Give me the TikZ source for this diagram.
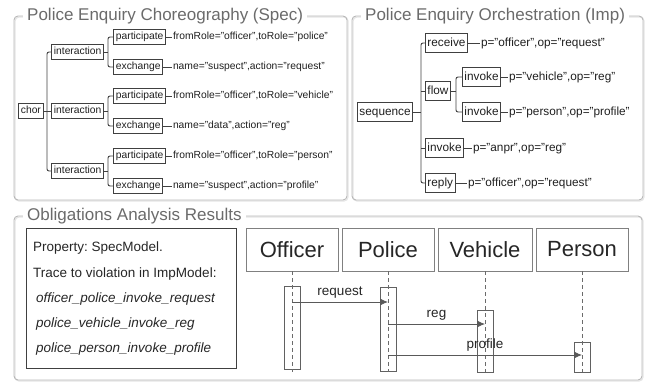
\documentclass[tikz,border=0pt]{standalone}
\usepackage{fontspec}
\setmainfont{Liberation Sans}
\usetikzlibrary{arrows.meta}
\frenchspacing

\begin{document}
\begin{tikzpicture}[x=1pt,y=-1pt,
  panelshadow/.style={draw=black!10, line width=1.2pt, rounded corners=4pt},
  panel/.style={draw=black!28, line width=0.9pt, rounded corners=4pt},
  paneltitle/.style={fill=white, text=black!58, anchor=west, inner xsep=4pt, inner ysep=1pt,
    font=\fontsize{17}{17}\selectfont, text height=12.3pt, text depth=3.6pt},
  tnode/.style={draw=black!75, line width=0.95pt, text=black!88, anchor=west,
    inner xsep=2.4pt, inner ysep=0pt, minimum height=15pt,
    font=\fontsize{10.3}{10.3}\selectfont, text height=7.6pt, text depth=2.2pt},
  tattr/.style={text=black!88, anchor=west, inner xsep=0.8pt, inner ysep=0pt,
    font=\fontsize{10.3}{10.3}\selectfont, text height=7.6pt, text depth=2.2pt},
  rnode/.style={tnode, minimum height=19.5pt, inner xsep=2pt,
    font=\fontsize{11.8}{11.8}\selectfont, text height=8.7pt, text depth=2.5pt},
  rattr/.style={tattr, font=\fontsize{11.8}{11.8}\selectfont, text height=8.7pt, text depth=2.5pt},
  link/.style={draw=black!75, line width=0.95pt, rounded corners=2pt},
  hdr/.style={draw=black!50, line width=0.8pt, minimum width=92pt, minimum height=43pt,
    inner sep=0pt, text=black!85, font=\fontsize{22}{22}\selectfont},
  act/.style={draw=black!62, line width=0.8pt, minimum width=16pt, inner sep=0pt},
  life/.style={draw=black!58, line width=0.8pt, dash pattern=on 4pt off 3pt},
  msg/.style={draw=black!65, line width=0.8pt, -{Latex[length=8pt,width=7pt]}},
  msglabel/.style={midway, yshift=10.5pt, inner sep=0pt, text=black!85,
    font=\fontsize{13.5}{13.5}\selectfont, text height=9.8pt, text depth=2.8pt},
  proptext/.style={anchor=west, inner sep=0pt, text=black!85,
    font=\fontsize{13.5}{13.5}\selectfont, text height=9.8pt, text depth=2.8pt}
]
\useasboundingbox (0,0) rectangle (648,383);

% ---------- panels ----------
\draw[panelshadow] (15,17) rectangle (348,201);
\draw[panelshadow] (353,17) rectangle (644,201);
\draw[panelshadow] (15,217) rectangle (643,381);
\draw[panel] (14,16) rectangle (347,200);
\draw[panel] (352,16) rectangle (643,200);
\draw[panel] (14,216) rectangle (642,380);
\node[paneltitle] (specTitle) at (23,16) {Police Enquiry Choreography (Spec)};
\node[paneltitle] (impTitle) at (361,16) {Police Enquiry Orchestration (Imp)};
\node[paneltitle] (resTitle) at (23,216) {Obligations Analysis Results};

% ---------- choreography tree ----------
\node[tnode] (chor) at (18,111) {chor};
\node[tnode] (ia1) at (51,52) {interaction};
\node[tnode] (ia2) at (51,111) {interaction};
\node[tnode] (ia3) at (51,171) {interaction};
\node[tnode] (pa1) at (113,37) {participate};
\node[tnode] (ex1) at (113,67) {exchange};
\node[tnode] (pa2) at (113,96) {participate};
\node[tnode] (ex2) at (113,126) {exchange};
\node[tnode] (pa3) at (113,156) {participate};
\node[tnode] (ex3) at (113,186) {exchange};

\node[tattr] (pa1a) at (172,37) {fromRole="officer",toRole="police"};
\node[tattr] (ex1a) at (172,67) {name="suspect",action="request"};
\node[tattr] (pa2a) at (172,96) {fromRole="officer",toRole="vehicle"};
\node[tattr] (ex2a) at (172,126) {name="data",action="reg"};
\node[tattr] (pa3a) at (172,156) {fromRole="officer",toRole="person"};
\node[tattr] (ex3a) at (172,186) {name="suspect",action="profile"};

\coordinate (c0) at (47,111);
\coordinate (c1) at (108,52);
\coordinate (c2) at (108,111);
\coordinate (c3) at (108,171);

\draw[link] (chor.east) -- (c0);
\draw[link] (ia1.west) -| (c0) |- (ia3.west);
\draw[link] (ia2.west) -- (ia2.west -| c0);
\draw[link] (ia1.east) -- (c1);
\draw[link] (pa1.west) -| (c1) |- (ex1.west);
\draw[link] (ia2.east) -- (c2);
\draw[link] (pa2.west) -| (c2) |- (ex2.west);
\draw[link] (ia3.east) -- (c3);
\draw[link] (pa3.west) -| (c3) |- (ex3.west);

\draw[link] (pa1.east) -- (pa1a.west);
\draw[link] (ex1.east) -- (ex1a.west);
\draw[link] (pa2.east) -- (pa2a.west);
\draw[link] (ex2.east) -- (ex2a.west);
\draw[link] (pa3.east) -- (pa3a.west);
\draw[link] (ex3.east) -- (ex3a.west);

% ---------- orchestration tree ----------
\node[rnode] (seq) at (357,112) {sequence};
\node[rnode] (rec) at (425,43) {receive};
\node[rnode] (flow) at (425,91) {flow};
\node[rnode] (invA) at (425,148) {invoke};
\node[rnode] (rep) at (425,183) {reply};
\node[rnode] (invV) at (462,77) {invoke};
\node[rnode] (invP) at (462,112) {invoke};

\node[rattr] (recA) at (480,43) {p="officer",op="request"};
\node[rattr] (invVA) at (508,77) {p="vehicle",op="reg"};
\node[rattr] (invPA) at (508,112) {p="person",op="profile"};
\node[rattr] (invAA) at (472,148) {p="anpr",op="reg"};
\node[rattr] (repA) at (467,183) {p="officer",op="request"};

\coordinate (s0) at (421,112);
\coordinate (f0) at (456,91);

\draw[link] (seq.east) -- (s0);
\draw[link] (rec.west) -| (s0) |- (rep.west);
\draw[link] (flow.west) -- (flow.west -| s0);
\draw[link] (invA.west) -- (invA.west -| s0);
\draw[link] (flow.east) -- (f0);
\draw[link] (invV.west) -| (f0) |- (invP.west);

\draw[link] (rec.east) -- (recA.west);
\draw[link] (invV.east) -- (invVA.west);
\draw[link] (invP.east) -- (invPA.west);
\draw[link] (invA.east) -- (invAA.west);
\draw[link] (rep.east) -- (repA.west);

% ---------- analysis results ----------
\node[draw=black!75, line width=1.3pt, minimum width=210pt, minimum height=140pt,
  inner sep=0pt, anchor=north west] (prop) at (26,228) {};
\node[proptext] (propL1) at (33,248) {Property: SpecModel.};
\node[proptext] (propL2) at (33,274) {Trace to violation in ImpModel:};
\node[proptext] (propL3) at (36,299) {\itshape officer\_police\_invoke\_request};
\node[proptext] (propL4) at (36,324) {\itshape police\_vehicle\_invoke\_reg};
\node[proptext] (propL5) at (36,349) {\itshape police\_person\_invoke\_profile};

% sequence chart
\node[hdr] (officer) at (292,249.5) {Officer};
\node[hdr] (police) at (388,249.5) {Police};
\node[hdr, minimum width=94pt] (vehicle) at (485,249.5) {Vehicle};
\node[hdr] (person) at (582,249.5) {Person};

\node[act, minimum height=83pt] (oAct) at (292,327.5) {};
\node[act, minimum height=84pt] (pAct) at (388,329) {};
\node[act, minimum height=62pt] (vAct) at (485,341) {};
\node[act, minimum height=30pt] (rAct) at (582,357) {};

\coordinate (lifeEnd) at (0,372);
\draw[life] (officer.south) -- (officer.south |- lifeEnd);
\draw[life] (police.south) -- (police.south |- lifeEnd);
\draw[life] (vehicle.south) -- (vehicle.south |- lifeEnd);
\draw[life] (person.south) -- (person.south |- lifeEnd);

\coordinate (yReq) at (0,302);
\coordinate (yReg) at (0,324);
\coordinate (yProf) at (0,355);
\draw[msg] (oAct |- yReq) -- node[msglabel] {request} (pAct |- yReq);
\draw[msg] (pAct |- yReg) -- node[msglabel] {reg} (vAct |- yReg);
\draw[msg] (pAct |- yProf) -- node[msglabel] {profile} (rAct |- yProf);

\end{tikzpicture}
\end{document}
